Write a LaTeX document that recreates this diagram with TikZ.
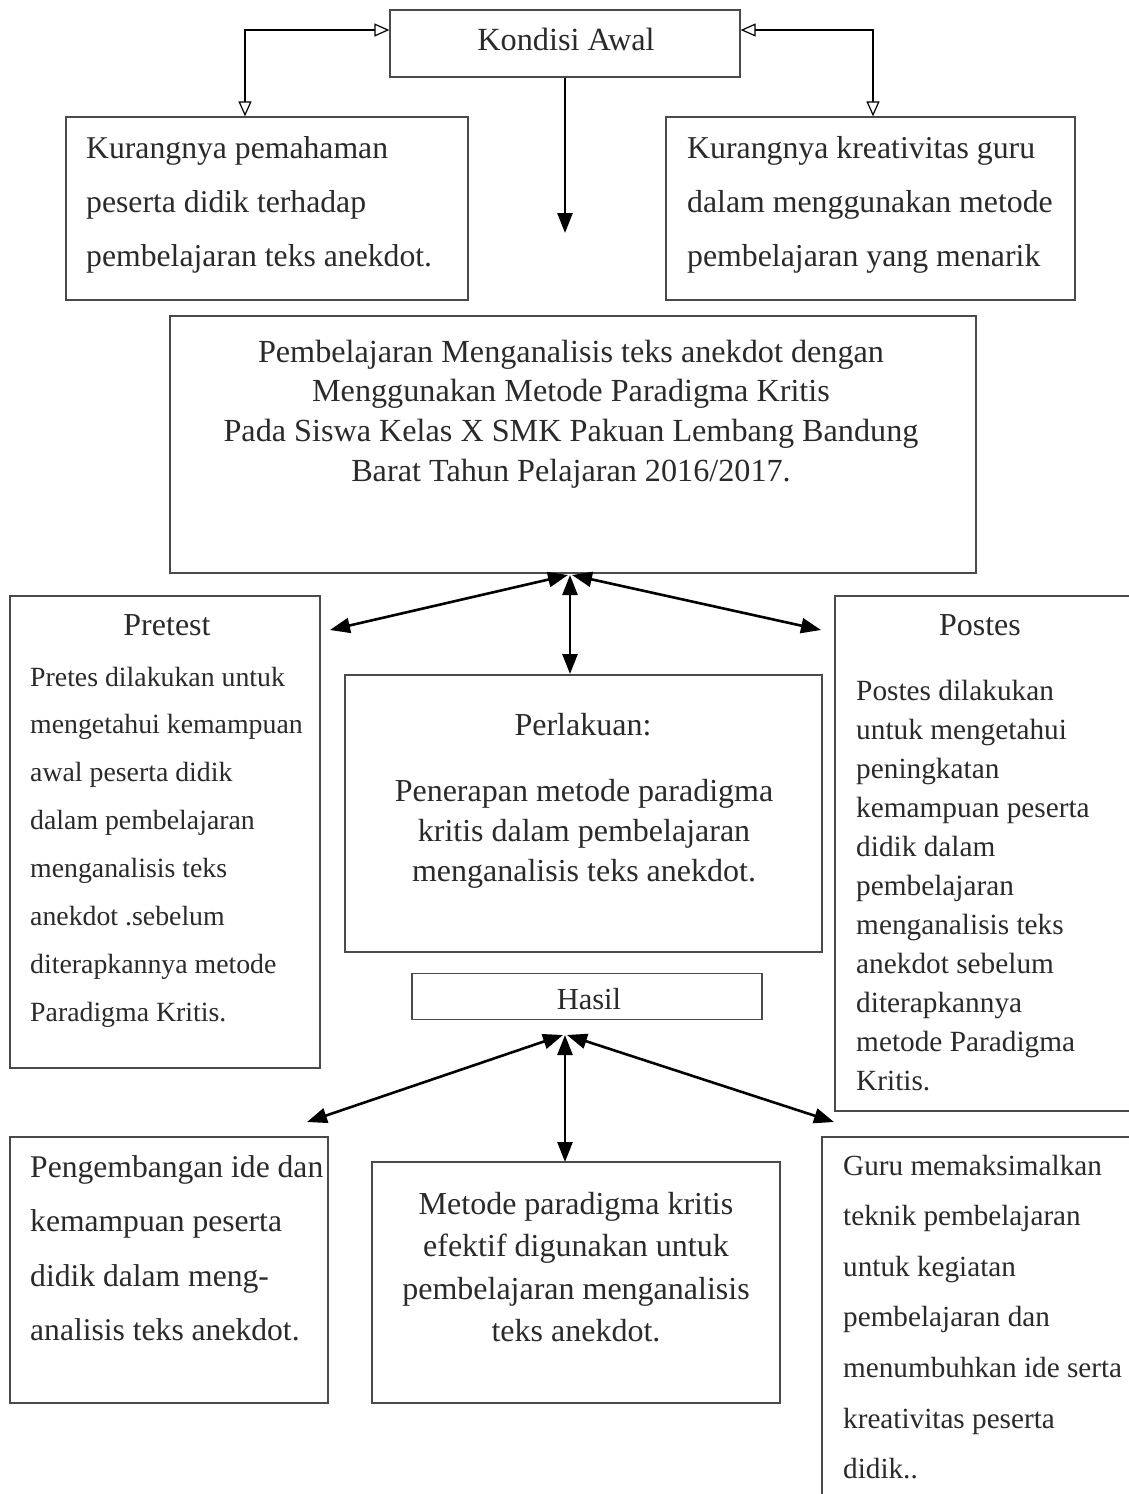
\documentclass[tikz,border=0pt]{standalone}
\usepackage{fontspec}
\setmainfont{Liberation Serif}
\usetikzlibrary{arrows.meta}
\definecolor{txtc}{HTML}{2A2A2A}
\definecolor{boxc}{HTML}{4A4A4A}
\begin{document}
\begin{tikzpicture}[x=1pt,y=-1pt,
  box/.style={draw=boxc, line width=1.3pt, inner sep=0pt, fill=none},
  txt/.style={inner sep=0pt, text=txtc},
  farr/.style={line width=2.6pt, black, {Triangle[length=20pt,width=15pt]}-{Triangle[length=20pt,width=15pt]}},
  farrone/.style={line width=2.6pt, black, -{Triangle[length=20pt,width=15pt]}},
  oarr/.style={line width=2.2pt, black, {Triangle[open,length=15pt,width=13pt,line width=1.2pt,fill=white]}-{Triangle[open,length=15pt,width=13pt,line width=1.2pt,fill=white]}}
]
\useasboundingbox (0,0) rectangle (1129,1494);
\fill[white] (0,0) rectangle (1129,1494);

% boxes
\node[box, minimum width=350pt, minimum height=67pt] (ka) at (565,43.5) {};
\node[box, minimum width=402pt, minimum height=183pt] (kl) at (267,208.5) {};
\node[box, minimum width=409pt, minimum height=183pt] (kr) at (870.5,208.5) {};
\node[box, minimum width=806pt, minimum height=257pt] (pm) at (573,444.5) {};
\node[box, minimum width=310pt, minimum height=472pt] (pre) at (165,832) {};
\node[box, minimum width=477pt, minimum height=277pt] (per) at (583.5,813.5) {};
\node[box, minimum width=305pt, minimum height=515pt] (pos) at (987.5,853.5) {};
\node[box, minimum width=350pt, minimum height=46pt] (has) at (587,996.5) {};
\node[box, minimum width=318pt, minimum height=266pt] (bl) at (169,1270) {};
\node[box, minimum width=408pt, minimum height=241pt] (bm) at (576,1282.5) {};
\node[box, minimum width=318pt, minimum height=380pt] (br) at (981,1327) {};

% texts
\node[txt, anchor=base] (tka) at (566,50) {\fontsize{32.3}{32}\selectfont Kondisi Awal};
\node[txt, anchor=base west] (tkl) at (86,158) {\parbox[t]{380pt}{\raggedright\fontsize{31.7}{54.3}\selectfont Kurangnya pemahaman\\peserta didik terhadap\\pembelajaran teks anekdot.}};
\node[txt, anchor=base west] (tkr) at (687,158) {\parbox[t]{390pt}{\raggedright\fontsize{31.8}{54.3}\selectfont Kurangnya kreativitas guru\\dalam menggunakan metode\\pembelajaran yang menarik}};
\node[txt, anchor=base] (tpm) at (571,362) {\parbox[t]{790pt}{\centering\fontsize{32.2}{39.7}\selectfont Pembelajaran Menganalisis teks anekdot dengan\\Menggunakan Metode Paradigma Kritis\\Pada Siswa Kelas X SMK Pakuan Lembang Bandung\\Barat Tahun Pelajaran 2016/2017.}};
\node[txt, anchor=base] (tpret) at (167,635) {\fontsize{32}{32}\selectfont Pretest};
\node[txt, anchor=base west] (tpreb) at (30,686) {\parbox[t]{285pt}{\raggedright\fontsize{27.8}{47.9}\selectfont Pretes dilakukan untuk\\mengetahui kemampuan\\awal peserta didik\\dalam pembelajaran\\menganalisis teks\\anekdot .sebelum\\diterapkannya metode\\Paradigma Kritis.}};
\node[txt, anchor=base] (tpost) at (980,635) {\fontsize{32}{32}\selectfont Postes};
\node[txt, anchor=base west] (tposb) at (856,700) {\parbox[t]{270pt}{\raggedright\fontsize{29.3}{39}\selectfont Postes dilakukan\\untuk mengetahui\\peningkatan\\kemampuan peserta\\didik dalam\\pembelajaran\\menganalisis teks\\anekdot sebelum\\diterapkannya\\metode Paradigma\\Kritis.}};
\node[txt, anchor=base] (tpert) at (583,735) {\fontsize{32}{32}\selectfont Perlakuan:};
\node[txt, anchor=base] (tperb) at (584,801) {\parbox[t]{460pt}{\centering\fontsize{32}{40}\selectfont Penerapan metode paradigma\\kritis dalam pembelajaran\\menganalisis teks anekdot.}};
\node[txt, anchor=base] (thas) at (589,1009) {\fontsize{30.5}{30}\selectfont Hasil};
\node[txt, anchor=base west] (tbl) at (30,1177) {\parbox[t]{310pt}{\raggedright\fontsize{31.6}{54.5}\selectfont Pengembangan ide dan\\kemampuan peserta\\didik dalam meng-\\analisis teks anekdot.}};
\node[txt, anchor=base] (tbm) at (576,1214) {\parbox[t]{400pt}{\centering\fontsize{32}{42.6}\selectfont Metode paradigma kritis\\efektif digunakan untuk\\pembelajaran menganalisis\\teks anekdot.}};
\node[txt, anchor=base west] (tbr) at (843,1175) {\parbox[t]{300pt}{\raggedright\fontsize{29.2}{50.6}\selectfont Guru memaksimalkan\\teknik pembelajaran\\untuk kegiatan\\pembelajaran dan\\menumbuhkan ide serta\\kreativitas peserta\\didik..}};

% connectors top
\draw[oarr] ([yshift=13.5pt]ka.west) -| ([xshift=-22pt]kl.north);
\draw[oarr] ([yshift=13.5pt]ka.east) -| ([xshift=2.5pt]kr.north);
\coordinate (kaend) at (565,233);
\draw[farrone] (ka.south) -- (kaend);

% connectors middle
\coordinate (pmtip) at (568,575);
\coordinate (pretip) at (330,630);
\coordinate (postip) at (821,630);
\coordinate (pertip) at (570,674);
\draw[farr] (pmtip) -- (pretip);
\draw[farr] ([xshift=2pt]pmtip) -- (pertip);
\draw[farr] ([xshift=4pt]pmtip) -- (postip);

% connectors bottom
\coordinate (hastip) at (565,1035);
\coordinate (bltip) at (307,1122);
\coordinate (bmtip) at (565,1162);
\coordinate (brtip) at (834,1122);
\draw[farr] ([xshift=-2pt]hastip) -- (bltip);
\draw[farr] (hastip) -- (bmtip);
\draw[farr] ([xshift=2pt]hastip) -- (brtip);
\end{tikzpicture}
\end{document}
